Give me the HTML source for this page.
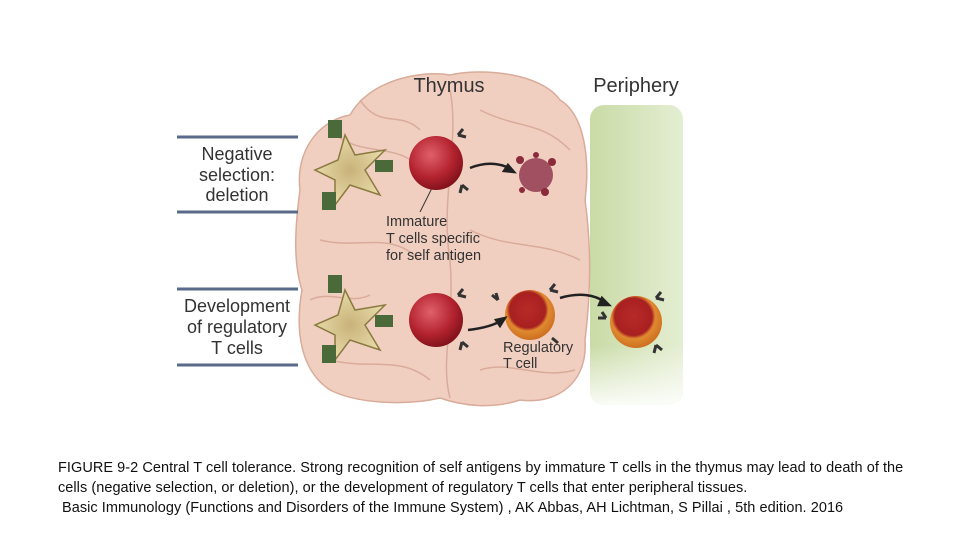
<!DOCTYPE html>
<html><head><meta charset="utf-8"><style>
body{margin:0;background:#fff;width:960px;height:540px;overflow:hidden;font-family:"Liberation Sans",sans-serif;}
.cap{position:absolute;left:58px;font-size:14.5px;color:#111;white-space:nowrap;letter-spacing:0.05px;}
</style></head><body>
<svg width="960" height="540" style="position:absolute;left:0;top:0" xmlns="http://www.w3.org/2000/svg">
<defs>
<linearGradient id="per" x1="0" x2="1" y1="0" y2="0">
<stop offset="0" stop-color="#c9dba6"/><stop offset="1" stop-color="#e4eed2"/></linearGradient>
<linearGradient id="perv" x1="0" x2="0" y1="0" y2="1">
<stop offset="0" stop-color="#fff" stop-opacity="0"/><stop offset="0.8" stop-color="#fff" stop-opacity="0"/><stop offset="1" stop-color="#fff" stop-opacity="0.9"/></linearGradient>
<radialGradient id="red" cx="0.4" cy="0.35" r="0.7"><stop offset="0" stop-color="#e0606a"/><stop offset="0.6" stop-color="#b3232f"/><stop offset="1" stop-color="#7a1018"/></radialGradient>
<radialGradient id="org" cx="0.45" cy="0.4" r="0.65"><stop offset="0" stop-color="#b92a2a"/><stop offset="0.55" stop-color="#a82020"/><stop offset="0.65" stop-color="#e08a30"/><stop offset="1" stop-color="#c8681a"/></radialGradient>
<radialGradient id="yel" cx="0.5" cy="0.5" r="0.6"><stop offset="0" stop-color="#c9b27a"/><stop offset="1" stop-color="#ece2b0"/></radialGradient>
</defs>
<rect x="590" y="105" width="93" height="300" rx="14" fill="url(#per)"/>
<rect x="590" y="105" width="93" height="300" rx="14" fill="url(#perv)"/>
<path d="M300 190 C295 150 320 120 350 115 C370 80 420 70 450 75 C480 68 540 72 560 100 C585 115 590 160 585 200 C592 250 590 300 585 340 C588 380 560 405 520 400 C490 410 460 405 440 398 C410 405 360 405 330 390 C300 370 295 330 302 290 C292 260 296 220 300 190 Z" fill="#f1cfc0" stroke="#d9ab9a" stroke-width="1.5"/>
<path d="M330 130 C360 160 400 140 420 170 M450 90 C460 140 440 200 450 260 C455 320 440 360 450 398 M480 110 C520 130 540 120 570 150 M320 240 C360 250 390 230 420 260 M470 230 C510 250 540 240 580 260 M330 360 C370 370 400 355 430 380 M480 370 C510 360 540 380 575 370 M360 100 C380 130 400 110 420 130 M310 300 C330 290 350 305 370 295" fill="none" stroke="#d9ab9a" stroke-width="1.5"/>
<g font-size="20" fill="#333" text-anchor="middle">
<text x="449" y="92">Thymus</text><text x="636" y="92">Periphery</text></g>
<g font-size="18" fill="#333" text-anchor="middle">
<text x="237" y="160">Negative</text><text x="237" y="181">selection:</text><text x="237" y="201">deletion</text>
<text x="237" y="312">Development</text><text x="237" y="333">of regulatory</text><text x="237" y="354">T cells</text>
</g>
<g stroke="#5a6a8a" stroke-width="3"><line x1="177" y1="137" x2="298" y2="137"/><line x1="177" y1="212" x2="298" y2="212"/><line x1="177" y1="289" x2="298" y2="289"/><line x1="177" y1="365" x2="298" y2="365"/></g>
<g font-size="14.5" fill="#333"><text x="386" y="226">Immature</text><text x="386" y="243">T cells specific</text><text x="386" y="260">for self antigen</text>
<text x="503" y="352">Regulatory</text><text x="503" y="368">T cell</text></g>
<line x1="420" y1="212" x2="432" y2="188" stroke="#333" stroke-width="1"/>
<g fill="url(#yel)" stroke="#8a7a40" stroke-width="1.5">
<path d="M345 135 L355 155 L385 150 L365 170 L380 195 L350 185 L335 205 L335 180 L315 170 L338 160 Z"/>
<path d="M345 290 L355 310 L385 305 L365 325 L380 350 L350 340 L335 360 L335 335 L315 325 L338 315 Z"/>
</g>
<g fill="#4a6a3a"><rect x="328" y="120" width="14" height="18"/><rect x="322" y="192" width="14" height="18"/><rect x="375" y="160" width="18" height="12"/>
<rect x="328" y="275" width="14" height="18"/><rect x="322" y="345" width="14" height="18"/><rect x="375" y="315" width="18" height="12"/></g>
<circle cx="436" cy="163" r="27" fill="url(#red)"/>
<circle cx="436" cy="320" r="27" fill="url(#red)"/>
<circle cx="536" cy="175" r="17" fill="#a05060"/>
<g fill="#8a2a3a"><circle cx="520" cy="160" r="4"/><circle cx="552" cy="162" r="4"/><circle cx="545" cy="192" r="4"/><circle cx="522" cy="190" r="3"/><circle cx="536" cy="155" r="3"/></g>
<circle cx="530" cy="315" r="25" fill="url(#org)"/>
<circle cx="636" cy="322" r="26" fill="url(#org)"/>
<g stroke="#333" stroke-width="3" fill="none">
<path d="M458 135 l5 -6 m-5 6 l8 2"/><path d="M462 185 l6 5 m-6 -5 l-2 8"/><path d="M458 295 l5 -6 m-5 6 l8 2"/><path d="M462 342 l6 5 m-6 -5 l-2 8"/>
<path d="M550 290 l5 -6 m-5 6 l8 2"/><path d="M498 300 l-6 -5 m6 5 l-2 -7"/><path d="M552 338 l6 5"/>
<path d="M656 298 l5 -6 m-5 6 l8 2"/><path d="M606 318 l-8 0 m8 0 l-4 -6"/><path d="M656 345 l6 5 m-6 -5 l-2 8"/>
</g>
<g stroke="#222" stroke-width="2.5" fill="#222">
<path d="M470 168 C490 160 505 165 512 170" fill="none"/><path d="M514 172 l-10 -1 l4 -6z"/>
<path d="M468 330 C485 328 495 325 502 320" fill="none"/><path d="M505 318 l-5 8 l-4 -6z"/>
<path d="M560 298 C580 292 595 295 605 302" fill="none"/><path d="M609 305 l-10 0 l3 -7z"/>
</g>
</svg>
<div class="cap" style="top:460px">FIGURE 9-2 Central T cell tolerance. Strong recognition of self antigens by immature T cells in the thymus may lead to death of the</div>
<div class="cap" style="top:480px">cells (negative selection, or deletion), or the development of regulatory T cells that enter peripheral tissues.</div>
<div class="cap" style="top:500px;left:62px">Basic Immunology (Functions and Disorders of the Immune System) , AK Abbas, AH Lichtman, S Pillai , 5th edition. 2016</div>
</body></html>
